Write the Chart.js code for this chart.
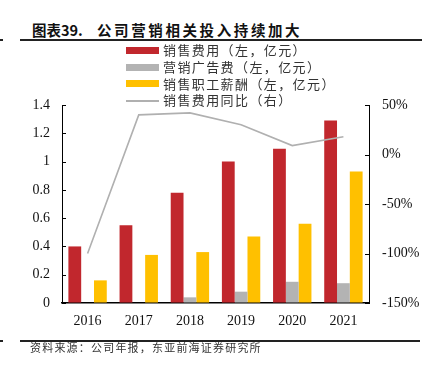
<!DOCTYPE html>
<html>
<head>
    <meta charset="utf-8">
    <title>公司营销相关投入持续加大</title>
    <script src="https://cdn.jsdelivr.net/npm/chart.js@4/dist/chart.umd.min.js"></script>
    <style>
        body { margin: 0; width: 432px; height: 367px; position: relative; overflow: hidden; background: #fff; font-family: "Noto Sans CJK SC", sans-serif; }
        .t { position: absolute; top: 20px; font-size: 14.5px; font-weight: bold; color: #111; line-height: 20px; white-space: nowrap; }
        #t1 { left: 32px; }
        #t2 { left: 97px; letter-spacing: 2.6px; }
        .rule { position: absolute; height: 2px; background: #222; }
        #legend { position: absolute; left: 126px; top: 42px; font-size: 13px; letter-spacing: 1.4px; color: #333; }
        .item { height: 16.8px; line-height: 16.8px; white-space: nowrap; display: flex; align-items: center; }
        .swatch { width: 33px; margin-right: 4px; }
        #footer { position: absolute; left: 30px; top: 341px; font-size: 11px; line-height: 13px; letter-spacing: 1.2px; color: #333; white-space: nowrap; }
        canvas { position: absolute; left: 0; top: 0; }
    </style>
</head>
<body>
    <div class="t" id="t1">图表39.</div>
    <div class="t" id="t2">公司营销相关投入持续加大</div>
    <div class="rule" style="left:0;top:39px;width:3px"></div>
    <div class="rule" style="left:20px;top:39px;width:402px"></div>
    <canvas id="myChart" width="432" height="367"></canvas>
    <div id="legend"></div>
    <div class="rule" style="left:0;top:340px;width:3px"></div>
    <div class="rule" style="left:20px;top:340px;width:400px"></div>
    <div id="footer">资料来源：公司年报，东亚前海证券研究所</div>

    <script>
        var years = ['2016', '2017', '2018', '2019', '2020', '2021'];
        var salesCost = [0.40, 0.55, 0.78, 1.00, 1.09, 1.29];
        var adCost = [0, 0, 0.04, 0.08, 0.15, 0.14];
        var salaryCost = [0.16, 0.34, 0.36, 0.47, 0.56, 0.93];
        var salesYoY = [-100, 40, 42, 30, 9, 18];

        var names = ['销售费用（左，亿元）', '营销广告费（左，亿元）', '销售职工薪酬（左，亿元）', '销售费用同比（右）'];
        var colors = ['#C1272D', '#B3B3B3', '#FFC000', '#B0B0B0'];

        // legend as a plain list, one row per series
        var legend = document.getElementById('legend');
        names.forEach(function (n, i) {
            var row = document.createElement('div');
            row.className = 'item';
            var sw = document.createElement('span');
            sw.className = 'swatch';
            sw.style.height = i == 3 ? '2px' : '7px';
            sw.style.background = colors[i];
            row.appendChild(sw);
            row.appendChild(document.createTextNode(n));
            legend.appendChild(row);
        });

        // inward tick marks on both y axes
        var innerTicks = {
            id: 'innerTicks',
            afterDraw: function (chart) {
                var c = chart.ctx;
                c.save();
                c.strokeStyle = '#000';
                c.lineWidth = 1;
                ['y', 'y1'].forEach(function (id) {
                    var s = chart.scales[id];
                    var x = id == 'y' ? s.right : s.left;
                    var d = id == 'y' ? 4 : -4;
                    s.ticks.forEach(function (t) {
                        var py = Math.round(s.getPixelForValue(t.value)) + 0.5;
                        c.beginPath();
                        c.moveTo(x, py);
                        c.lineTo(x + d, py);
                        c.stroke();
                    });
                });
                c.restore();
            }
        };

        var tickFont = { family: '"Liberation Serif", "Times New Roman", serif', size: 14 };

        var ctx = document.getElementById('myChart').getContext('2d');
        var chart = new Chart(ctx, {
            data: {
                labels: years,
                datasets: [{
                    type: 'line',
                    label: names[3],
                    data: salesYoY,
                    yAxisID: 'y1',
                    borderColor: colors[3],
                    borderWidth: 1.6,
                    pointRadius: 0,
                    tension: 0,
                    order: 0
                }, {
                    type: 'bar',
                    label: names[0],
                    data: salesCost,
                    backgroundColor: colors[0],
                    categoryPercentage: 0.75,
                    barPercentage: 1,
                    order: 1
                }, {
                    type: 'bar',
                    label: names[1],
                    data: adCost,
                    backgroundColor: colors[1],
                    categoryPercentage: 0.75,
                    barPercentage: 1,
                    order: 1
                }, {
                    type: 'bar',
                    label: names[2],
                    data: salaryCost,
                    backgroundColor: colors[2],
                    categoryPercentage: 0.75,
                    barPercentage: 1,
                    order: 1
                }]
            },
            options: {
                responsive: false,
                animation: false,
                layout: { padding: { top: 105, bottom: 34, left: 0, right: 0 } },
                plugins: {
                    legend: { display: false },
                    tooltip: { enabled: false }
                },
                scales: {
                    x: {
                        grid: { display: false, drawTicks: false },
                        border: { display: true, color: '#000', width: 1.5 },
                        ticks: { color: '#111', font: tickFont, padding: 10 },
                        afterFit: function (s) { s.height = 30; }
                    },
                    y: {
                        position: 'left',
                        min: 0,
                        max: 1.4,
                        grid: { drawOnChartArea: false, drawTicks: false },
                        border: { display: true, color: '#000', width: 1 },
                        ticks: {
                            stepSize: 0.2,
                            color: '#111',
                            font: tickFont,
                            padding: 12,
                            callback: function (v) { return String(Math.round(v * 10) / 10); }
                        },
                        afterFit: function (s) { s.width = 62; }
                    },
                    y1: {
                        position: 'right',
                        min: -150,
                        max: 50,
                        grid: { drawOnChartArea: false, drawTicks: false },
                        border: { display: true, color: '#000', width: 1 },
                        ticks: {
                            stepSize: 50,
                            color: '#111',
                            font: tickFont,
                            padding: 13,
                            callback: function (v) { return v + '%'; }
                        },
                        afterFit: function (s) { s.width = 63; }
                    }
                }
            },
            plugins: [innerTicks]
        });
    </script>
</body>
</html>
